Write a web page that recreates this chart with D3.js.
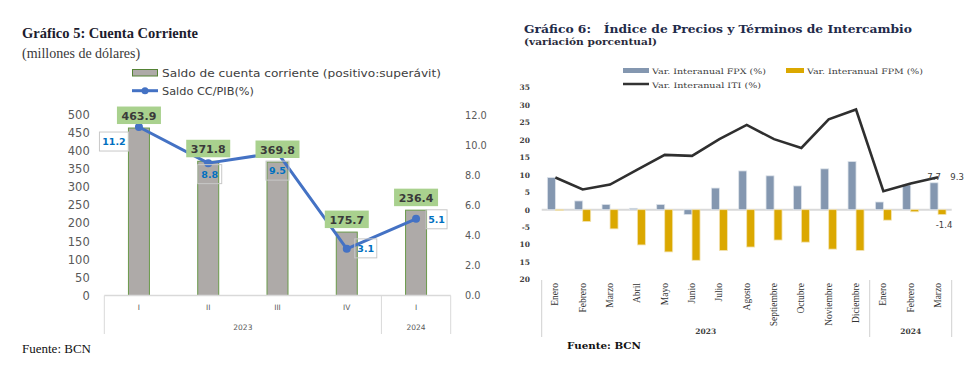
<!DOCTYPE html>
<html><head><meta charset="utf-8">
<script src="https://cdn.jsdelivr.net/npm/d3@7"></script>
<style>body{margin:0;background:#fff}svg{display:block}</style>
</head><body><svg id="c" width="979" height="391"></svg>
<script>
// ---------- Gráfico 5 data ----------
const quarters = ["I", "II", "III", "IV", "I"];
const quarterYears = ["2023", "2024"];
const quarterYearSpan = [4, 1];
const saldoCC = [463.9, 371.8, 369.8, 175.7, 236.4];
const ccPib = [11.2, 8.8, 9.5, 3.1, 5.1];
const leftTicks = [0, 50, 100, 150, 200, 250, 300, 350, 400, 450, 500];
const rightTicks = [0, 2, 4, 6, 8, 10, 12];

// ---------- Gráfico 6 data ----------
const months = ["Enero", "Febrero", "Marzo", "Abril", "Mayo", "Junio", "Julio", "Agosto",
  "Septiembre", "Octubre", "Noviembre", "Diciembre", "Enero", "Febrero", "Marzo"];
const monthYears = ["2023", "2024"];
const monthYearSpan = [12, 3];
const fpx = [9.2, 2.5, 1.5, 0.4, 1.5, -1.4, 6.2, 11.1, 9.7, 6.8, 11.7, 13.8, 2.2, 7.1, 7.7];
const fpm = [-0.2, -3.4, -5.5, -10.1, -12.1, -14.5, -11.7, -10.7, -8.7, -9.3, -11.3, -11.7, -3.0, -0.6, -1.4];
const iti = [9.2, 5.8, 7.2, 11.5, 15.7, 15.4, 20.2, 24.3, 20.2, 17.7, 25.9, 28.7, 5.3, 7.5, 9.3];
const g6Ticks = [35, 30, 25, 20, 15, 10, 5, 0, -5, -10, -15, -20];
const g6TickLabels = ["35", "30", "25", "20", "15", "10", "5", "0", "-5", "10", "15", "20"];

const svg = d3.select("#c");
const fmt1 = d => d.toFixed(1);

// ================= Gráfico 5 =================
{
  const g = svg.append("g");
  const sans = "'DejaVu Sans', Verdana, sans-serif";
  g.append("text").attr("x", 22).attr("y", 38).text("Gráfico 5: Cuenta Corriente")
    .attr("font-family", "'Liberation Serif', serif").attr("font-weight", "bold")
    .attr("font-size", 14.5).attr("fill", "#1c1c2e");
  g.append("text").attr("x", 22).attr("y", 58).text("(millones de dólares)")
    .attr("font-family", "'Liberation Serif', serif").attr("font-size", 14)
    .attr("fill", "#3a3a3a");

  // legend
  g.append("rect").attr("x", 132.5).attr("y", 69.5).attr("width", 25).attr("height", 6.5)
    .attr("fill", "#aeaaa8").attr("stroke", "#548235").attr("stroke-width", 1);
  g.append("text").attr("x", 162).attr("y", 77).text("Saldo de cuenta corriente (positivo:superávit)")
    .attr("font-family", sans).attr("font-size", 11.3).attr("fill", "#404040")
    .attr("textLength", 279).attr("lengthAdjust", "spacingAndGlyphs");
  g.append("line").attr("x1", 132).attr("x2", 158).attr("y1", 90.7).attr("y2", 90.7)
    .attr("stroke", "#4472c4").attr("stroke-width", 3);
  g.append("circle").attr("cx", 145).attr("cy", 90.7).attr("r", 3.5).attr("fill", "#4472c4");
  g.append("text").attr("x", 162).attr("y", 95).text("Saldo CC/PIB(%)")
    .attr("font-family", sans).attr("font-size", 11.3).attr("fill", "#404040");

  const x = d3.scaleBand().domain(d3.range(quarters.length)).range([104.3, 450.7]).padding(0);
  const yL = d3.scaleLinear().domain([0, 500]).range([295.5, 115]);
  const yR = d3.scaleLinear().domain([0, 12]).range([295.5, 115]);

  // left axis
  const ax = g.append("g").attr("transform", "translate(95,0)")
    .call(d3.axisLeft(yL).tickValues(leftTicks).tickSize(0).tickFormat(d3.format("d")));
  ax.select(".domain").remove();
  ax.selectAll("text").attr("font-family", sans).attr("font-size", 11.5).attr("fill", "#595959").attr("dx", "-0.2em");
  // right axis
  const ar = g.append("g").attr("transform", "translate(462,0)")
    .call(d3.axisRight(yR).tickValues(rightTicks).tickSize(0).tickFormat(d3.format(".1f")));
  ar.select(".domain").remove();
  ar.selectAll("text").attr("font-family", sans).attr("font-size", 9.8).attr("fill", "#595959");

  // bars
  const bw = 21;
  g.selectAll(".bar").data(saldoCC).join("rect")
    .attr("x", (d, i) => x(i) + x.bandwidth() / 2 - bw / 2)
    .attr("y", d => yL(d)).attr("width", bw).attr("height", d => yL(0) - yL(d))
    .attr("fill", "#aeaaa8").attr("stroke", "#6a9a4a").attr("stroke-width", 1);

  // axis line & separators
  g.append("line").attr("x1", 104.3).attr("x2", 450.7).attr("y1", yL(0)).attr("y2", yL(0))
    .attr("stroke", "#d9d9d9").attr("stroke-width", 1.5);
  let acc = 0;
  const seps = [0];
  quarterYearSpan.forEach(s => { acc += s; seps.push(acc); });
  seps.forEach(k => {
    const xx = k < quarters.length ? x(k) : x.range()[1];
    g.append("line").attr("x1", xx).attr("x2", xx).attr("y1", yL(0)).attr("y2", 334)
      .attr("stroke", "#d9d9d9").attr("stroke-width", 1);
  });
  g.selectAll(".ql").data(quarters).join("text")
    .attr("x", (d, i) => x(i) + x.bandwidth() / 2).attr("y", 310).attr("text-anchor", "middle")
    .text(d => d).attr("font-family", sans).attr("font-size", 7.5).attr("fill", "#595959");
  quarterYears.forEach((yr, j) => {
    const a = seps[j], b = seps[j + 1];
    const x0 = x(a), x1 = b < quarters.length ? x(b) : x.range()[1];
    g.append("text").attr("x", (x0 + x1) / 2).attr("y", 330).attr("text-anchor", "middle")
      .text(yr).attr("font-family", sans).attr("font-size", 7.5).attr("fill", "#595959");
  });

  // line
  const line = d3.line().x((d, i) => x(i) + x.bandwidth() / 2).y(d => yR(d));
  g.append("path").datum(ccPib).attr("d", line).attr("fill", "none")
    .attr("stroke", "#4472c4").attr("stroke-width", 3).attr("stroke-linejoin", "round");
  g.selectAll(".pt").data(ccPib).join("circle")
    .attr("cx", (d, i) => x(i) + x.bandwidth() / 2).attr("cy", d => yR(d)).attr("r", 4)
    .attr("fill", "#4472c4");

  // bar labels (green boxes)
  saldoCC.forEach((d, i) => {
    const cx = x(i) + x.bandwidth() / 2, top = yL(d);
    g.append("rect").attr("x", cx - 22).attr("y", top - 21.5).attr("width", 44).attr("height", 17.5)
      .attr("fill", "#a9d18e");
    g.append("text").attr("x", cx).attr("y", top - 8.5).attr("text-anchor", "middle")
      .text(fmt1(d)).attr("font-family", sans).attr("font-weight", "bold")
      .attr("font-size", 11).attr("fill", "#3a3a3a");
  });
  // line labels (outlined boxes)
  const place = [
    {dx: -25, dy: 14.5, w: 29},
    {dx: 1.5, dy: 11, w: 24},
    {dx: 0, dy: 18, w: 23},
    {dx: 19, dy: -0.5, w: 22},
    {dx: 20.5, dy: 0.5, w: 21}
  ];
  ccPib.forEach((d, i) => {
    const px = x(i) + x.bandwidth() / 2, py = yR(d), p = place[i];
    const cx = px + p.dx, cy = py + p.dy;
    g.append("rect").attr("x", cx - p.w / 2).attr("y", cy - 9.5).attr("width", p.w).attr("height", 19)
      .attr("fill", "none").attr("stroke", "#c8c8c8").attr("stroke-width", 1);
    g.append("text").attr("x", cx).attr("y", cy + 3.5).attr("text-anchor", "middle")
      .text(fmt1(d)).attr("font-family", sans).attr("font-weight", "bold")
      .attr("font-size", 9.5).attr("fill", "#0070c0");
  });

  g.append("text").attr("x", 22).attr("y", 353).text("Fuente: BCN")
    .attr("font-family", "'Liberation Serif', serif").attr("font-size", 13).attr("fill", "#111");
}

// ================= Gráfico 6 =================
{
  const g = svg.append("g");
  const serifW = "'DejaVu Serif', serif";
  const serifN = "'Liberation Serif', serif";
  g.append("text").attr("x", 524).attr("y", 33).text("Gráfico 6:   Índice de Precios y Términos de Intercambio")
    .attr("font-family", serifW).attr("font-weight", "bold").attr("font-size", 11.5).attr("fill", "#1f2b4a")
    .attr("textLength", 388).attr("lengthAdjust", "spacingAndGlyphs").attr("xml:space", "preserve");
  g.append("text").attr("x", 524).attr("y", 45).text("(variación porcentual)")
    .attr("font-family", serifW).attr("font-weight", "bold").attr("font-size", 9.5).attr("fill", "#2a2a3a")
    .attr("textLength", 133).attr("lengthAdjust", "spacingAndGlyphs");

  // legend
  const legFont = 7.6;
  g.append("rect").attr("x", 623).attr("y", 68).attr("width", 26).attr("height", 5).attr("fill", "#8497b0");
  g.append("text").attr("x", 652).attr("y", 73.5).text("Var. Interanual FPX (%)")
    .attr("font-family", serifW).attr("font-size", legFont).attr("fill", "#404040")
    .attr("textLength", 114).attr("lengthAdjust", "spacingAndGlyphs");
  g.append("rect").attr("x", 786).attr("y", 68).attr("width", 18).attr("height", 5).attr("fill", "#dba800");
  g.append("text").attr("x", 807).attr("y", 73.5).text("Var. Interanual FPM (%)")
    .attr("font-family", serifW).attr("font-size", legFont).attr("fill", "#404040")
    .attr("textLength", 116).attr("lengthAdjust", "spacingAndGlyphs");
  g.append("line").attr("x1", 623).attr("x2", 649).attr("y1", 84).attr("y2", 84)
    .attr("stroke", "#333").attr("stroke-width", 2.5);
  g.append("text").attr("x", 652).attr("y", 87.5).text("Var. Interanual ITI (%)")
    .attr("font-family", serifW).attr("font-size", legFont).attr("fill", "#404040")
    .attr("textLength", 109).attr("lengthAdjust", "spacingAndGlyphs");

  const x = d3.scaleBand().domain(d3.range(months.length)).range([541.7, 951.7]).padding(0);
  const y = d3.scaleLinear().domain([-20, 35]).range([279.5, 87.5]);

  const ay = g.append("g").attr("transform", "translate(533,0)")
    .call(d3.axisLeft(y).tickValues(g6Ticks).tickSize(0).tickFormat((d, i) => g6TickLabels[i]));
  ay.select(".domain").remove();
  ay.selectAll("text").attr("font-family", serifW).attr("font-weight", "bold").attr("font-size", 7.5)
    .attr("fill", "#404040").attr("dx", 0).attr("text-anchor", "end");

  // zero line
  g.append("line").attr("x1", 541.7).attr("x2", 951.7).attr("y1", y(0)).attr("y2", y(0))
    .attr("stroke", "#d9d9d9").attr("stroke-width", 2);

  const bw = 8;
  g.selectAll(".fpx").data(fpx).join("rect")
    .attr("x", (d, i) => x(i) + x.bandwidth() / 2 - bw)
    .attr("y", d => y(Math.max(0, d))).attr("width", bw).attr("height", d => Math.abs(y(d) - y(0)))
    .attr("fill", "#8497b0").attr("stroke", "#dde3ea").attr("stroke-width", 0.8);
  g.selectAll(".fpm").data(fpm).join("rect")
    .attr("x", (d, i) => x(i) + x.bandwidth() / 2)
    .attr("y", d => y(Math.max(0, d))).attr("width", bw).attr("height", d => Math.abs(y(d) - y(0)))
    .attr("fill", "#dba800").attr("stroke", "#f3e4b5").attr("stroke-width", 0.8);

  const line = d3.line().x((d, i) => x(i) + x.bandwidth() / 2).y(d => y(d));
  g.append("path").datum(iti).attr("d", line).attr("fill", "none")
    .attr("stroke", "#2f2f2f").attr("stroke-width", 2.6).attr("stroke-linejoin", "miter");

  // data labels for last month
  const last = months.length - 1;
  const cxL = x(last) + x.bandwidth() / 2;
  const lblFont = "'DejaVu Sans', sans-serif";
  g.append("text").attr("x", cxL - 4).attr("y", y(fpx[last]) - 3).attr("text-anchor", "middle")
    .text(fmt1(fpx[last])).attr("font-family", lblFont).attr("font-size", 8.5).attr("fill", "#404040");
  g.append("text").attr("x", cxL + 19).attr("y", y(iti[last]) + 3).attr("text-anchor", "middle")
    .text(fmt1(iti[last])).attr("font-family", lblFont).attr("font-size", 8.5).attr("fill", "#404040");
  g.append("text").attr("x", cxL + 6).attr("y", y(fpm[last]) + 13).attr("text-anchor", "middle")
    .text(fmt1(fpm[last])).attr("font-family", lblFont).attr("font-size", 8.5).attr("fill", "#404040");

  // month labels rotated
  g.selectAll(".ml").data(months).join("text")
    .attr("transform", (d, i) => `translate(${x(i) + x.bandwidth() / 2 + 3},283) rotate(-90)`)
    .attr("text-anchor", "end").text(d => d)
    .attr("font-family", serifN).attr("font-size", 9.5).attr("fill", "#333");

  // separators
  let acc = 0;
  const seps = [0];
  monthYearSpan.forEach(s => { acc += s; seps.push(acc); });
  seps.forEach(k => {
    const xx = k < months.length ? x(k) : x.range()[1];
    g.append("line").attr("x1", xx).attr("x2", xx).attr("y1", 280).attr("y2", 337)
      .attr("stroke", "#d0d0d0").attr("stroke-width", 1);
  });
  monthYears.forEach((yr, j) => {
    const a = seps[j], b = seps[j + 1];
    const x0 = x(a), x1 = b < months.length ? x(b) : x.range()[1];
    g.append("text").attr("x", (x0 + x1) / 2).attr("y", 334).attr("text-anchor", "middle")
      .text(yr).attr("font-family", serifW).attr("font-weight", "bold").attr("font-size", 7.5).attr("fill", "#404040");
  });

  g.append("text").attr("x", 567).attr("y", 349).text("Fuente: BCN")
    .attr("font-family", serifW).attr("font-weight", "bold").attr("font-size", 9).attr("fill", "#111")
    .attr("textLength", 74).attr("lengthAdjust", "spacingAndGlyphs");
}
</script>
</body></html>
